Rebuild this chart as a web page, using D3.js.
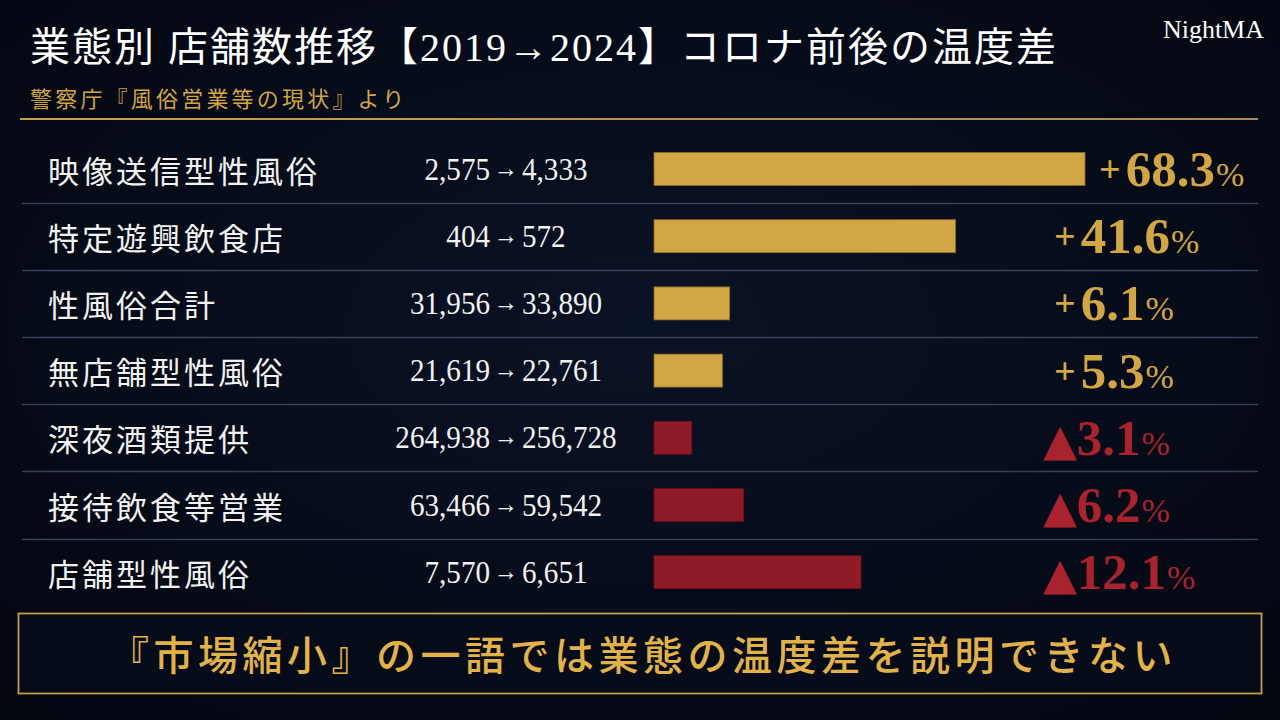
<!DOCTYPE html>
<html>
<head>
<meta charset="utf-8">
<script src="https://cdn.jsdelivr.net/npm/d3@7"></script>
<style>
  html, body { margin: 0; padding: 0; background: #050a18; }
  svg { display: block; }
</style>
</head>
<body>
<svg id="chart" width="1280" height="720"></svg>
<script>
// data (警察庁『風俗営業等の現状』)
var categories = ["映像送信型性風俗", "特定遊興飲食店", "性風俗合計", "無店舗型性風俗", "深夜酒類提供", "接待飲食等営業", "店舗型性風俗"];
var count2019 = [2575, 404, 31956, 21619, 264938, 63466, 7570];
var count2024 = [4333, 572, 33890, 22761, 256728, 59542, 6651];
var changePct = [68.3, 41.6, 6.1, 5.3, -3.1, -6.2, -12.1];

var titleText = "業態別 店舗数推移【2019→2024】コロナ前後の温度差";
var sourceText = "警察庁『風俗営業等の現状』より";
var messageText = "『市場縮小』の一語では業態の温度差を説明できない";
var brandText = "NightMA";

var GOLD = "#d2a645";
var RED = "#8f1b27";
var RED_TEXT = "#a9232f";
var SERIF = "'Liberation Serif', 'Noto Sans CJK JP', serif";
var CJK = "'Noto Sans CJK JP', sans-serif";

var rows = categories.map(function(c, i) {
  return { name: c, from: count2019[i], to: count2024[i], pct: changePct[i] };
});

var svg = d3.select("#chart");
var defs = svg.append("defs");

// background
var bg = defs.append("radialGradient").attr("id", "bgGrad").attr("cx", "50%").attr("cy", "45%").attr("r", "75%");
bg.append("stop").attr("offset", "0%").attr("stop-color", "#0a1225");
bg.append("stop").attr("offset", "100%").attr("stop-color", "#03060f");
svg.append("rect").attr("width", 1280).attr("height", 720).attr("fill", "url(#bgGrad)");

var rule = defs.append("linearGradient").attr("id", "ruleGrad");
rule.append("stop").attr("offset", "0%").attr("stop-color", "#c9a04c");
rule.append("stop").attr("offset", "100%").attr("stop-color", "#a88a62");

// header
svg.append("text")
  .attr("x", 30).attr("y", 47)
  .attr("dominant-baseline", "central")
  .attr("font-family", SERIF).attr("font-size", 40).attr("font-weight", 400)
  .attr("letter-spacing", 2)
  .attr("fill", "#ffffff")
  .text(titleText);

svg.append("text")
  .attr("x", 30).attr("y", 97)
  .attr("dominant-baseline", "central")
  .attr("font-family", CJK).attr("font-size", 22)
  .attr("letter-spacing", 3.2)
  .attr("fill", GOLD)
  .text(sourceText);

svg.append("text")
  .attr("x", 1264).attr("y", 38)
  .attr("text-anchor", "end")
  .attr("font-family", SERIF).attr("font-size", 26)
  .attr("fill", "#ffffff")
  .text(brandText);

svg.append("rect")
  .attr("x", 20).attr("y", 118).attr("width", 1238).attr("height", 2)
  .attr("fill", "url(#ruleGrad)");

// scales
var y = d3.scaleBand().domain(categories).range([135.4, 605.8]).paddingInner(0).paddingOuter(0);
var step = y.step();
var barH = 33;
var barX = 654;
// growth and decline bars are drawn on their own scales
var xUp = d3.scalePow().exponent(0.72).domain([0, 68.3]).range([0, 431]);
var xDown = d3.scalePow().exponent(1.25).domain([0, 12.1]).range([0, 207]);
function barW(d) { return d.pct >= 0 ? xUp(d.pct) : xDown(-d.pct); }

var fmt = d3.format(",");

// separators between rows
svg.append("g").selectAll("line")
  .data(categories.slice(1))
  .join("line")
  .attr("x1", 22).attr("x2", 1258)
  .attr("y1", function(c) { return Math.round(y(c)) + 0.5; })
  .attr("y2", function(c) { return Math.round(y(c)) + 0.5; })
  .attr("stroke", "#3b4157").attr("stroke-width", 1.5);

var row = svg.append("g").selectAll("g")
  .data(rows)
  .join("g")
  .attr("transform", function(d) { return "translate(0," + (y(d.name) + step / 2) + ")"; });

// category labels
row.append("text")
  .attr("x", 48).attr("y", 0)
  .attr("dominant-baseline", "central")
  .attr("font-family", CJK).attr("font-size", 31)
  .attr("letter-spacing", 3)
  .attr("fill", "#f2f2f2")
  .text(function(d) { return d.name; });

// 2019 -> 2024 counts
var nums = row.append("text")
  .attr("transform", "translate(506,10.5) scale(0.94,1)")
  .attr("text-anchor", "middle")
  .attr("font-family", SERIF).attr("font-size", 31)
  .attr("fill", "#f2f2f2");
nums.append("tspan").text(function(d) { return fmt(d.from); });
nums.append("tspan").attr("font-size", 26).attr("dy", -3).attr("dx", 4).text("→");
nums.append("tspan").attr("dy", 3).attr("dx", 4).text(function(d) { return fmt(d.to); });

// bars
row.append("rect")
  .attr("x", barX).attr("y", -barH / 2)
  .attr("width", barW).attr("height", barH)
  .attr("fill", function(d) { return d.pct >= 0 ? GOLD : RED; })
  .attr("stroke", function(d) { return d.pct >= 0 ? "#8a6a25" : "#6a1019"; })
  .attr("stroke-width", 0.8);

// change labels
var pct = row.append("text")
  .attr("x", function(d) {
    var x0 = d.pct >= 0 ? 1054 : 1043;
    return Math.max(x0, barX + barW(d) + 14);
  })
  .attr("y", 17)
  .attr("font-family", SERIF).attr("font-weight", "bold")
  .attr("fill", function(d) { return d.pct >= 0 ? GOLD : RED_TEXT; });
pct.append("tspan")
  .attr("font-size", function(d) { return d.pct >= 0 ? 38 : 44; })
  .attr("font-family", function(d) { return d.pct >= 0 ? SERIF : "'DejaVu Sans', sans-serif"; })
  .attr("font-weight", function(d) { return d.pct >= 0 ? "bold" : "normal"; })
  .attr("dy", function(d) { return d.pct >= 0 ? -4 : 0; })
  .text(function(d) { return d.pct >= 0 ? "+" : "▲"; });
pct.append("tspan")
  .attr("font-size", 51)
  .attr("dx", function(d) { return d.pct >= 0 ? 5 : 0; })
  .attr("dy", function(d) { return d.pct >= 0 ? 4 : 0; })
  .text(function(d) { return Math.abs(d.pct).toFixed(1); });
pct.append("tspan")
  .attr("font-size", 34)
  .attr("font-weight", "normal")
  .attr("dx", 1)
  .text("%");

// closing message
svg.append("rect")
  .attr("x", 18.5).attr("y", 613.5).attr("width", 1243).attr("height", 80)
  .attr("fill", "#060b1a")
  .attr("stroke", "#c49c48").attr("stroke-width", 1.8);

svg.append("text")
  .attr("x", 643).attr("y", 653)
  .attr("text-anchor", "middle")
  .attr("dominant-baseline", "central")
  .attr("font-family", CJK).attr("font-size", 40).attr("font-weight", 500)
  .attr("letter-spacing", 4.5)
  .attr("fill", "#e2b24a")
  .text(messageText);
</script>
</body>
</html>
